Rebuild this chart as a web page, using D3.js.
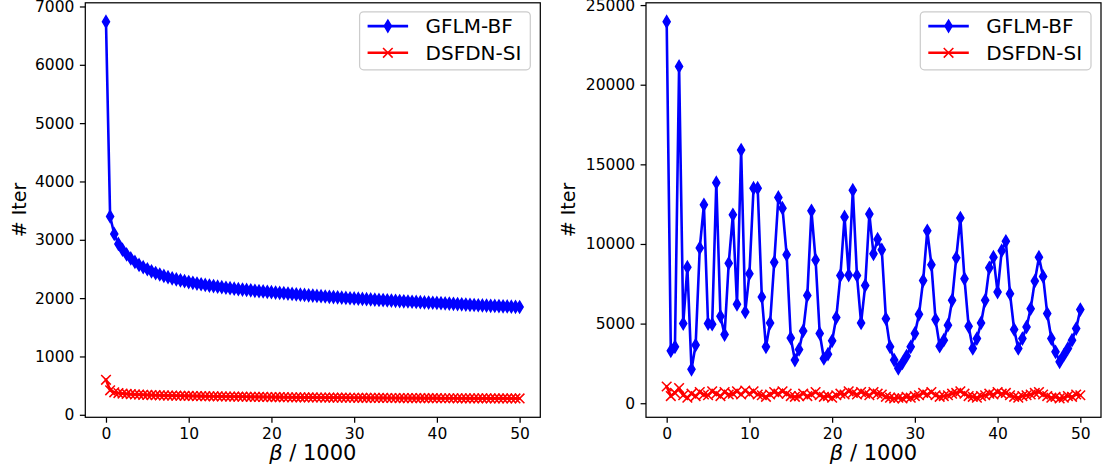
<!DOCTYPE html>
<html>
<head>
<meta charset="utf-8">
<script src="https://cdn.jsdelivr.net/npm/d3@7"></script>
<style>
html,body{margin:0;padding:0;background:#fff;}
svg{display:block;}
text{font-family:"DejaVu Sans",sans-serif;fill:#000;}
</style>
</head>
<body>
<svg id="chart" width="1104" height="472"></svg>
<script>
// ---------- data ----------
const beta = [
  0,0.5,1,1.5,2,2.5,3,3.5,4,4.5,
  5,5.5,6,6.5,7,7.5,8,8.5,9,9.5,
  10,10.5,11,11.5,12,12.5,13,13.5,14,14.5,
  15,15.5,16,16.5,17,17.5,18,18.5,19,19.5,
  20,20.5,21,21.5,22,22.5,23,23.5,24,24.5,
  25,25.5,26,26.5,27,27.5,28,28.5,29,29.5,
  30,30.5,31,31.5,32,32.5,33,33.5,34,34.5,
  35,35.5,36,36.5,37,37.5,38,38.5,39,39.5,
  40,40.5,41,41.5,42,42.5,43,43.5,44,44.5,
  45,45.5,46,46.5,47,47.5,48,48.5,49,49.5,
  50];

const leftGFLM = [
  6740,3400,3100,2930,2830,2750,2680,2620,2570,2530,
  2495,2460,2430,2405,2380,2360,2340,2322,2305,2290,
  2276,2263,2250,2238,2227,2216,2206,2196,2187,2178,
  2170,2162,2154,2147,2140,2133,2126,2120,2114,2108,
  2102,2096,2090,2084,2078,2072,2066,2060,2054,2048,
  2043,2038,2033,2028,2023,2018,2013,2008,2003,1998,
  1994,1990,1986,1982,1978,1974,1970,1966,1962,1958,
  1954,1950,1946,1942,1938,1934,1930,1927,1924,1921,
  1918,1914,1910,1906,1902,1898,1894,1890,1886,1882,
  1878,1875,1872,1869,1866,1863,1860,1857,1854,1851,
  1848];

const leftDSFDN = [
  600,420,385,372,364,358,353,349,346,343,
  340,338,336,334,332,330,329,327,326,325,
  324,322,321,320,319,318,317,316,315,314,
  313,312,311,310,309,308,307,306,306,305,
  304,303,303,302,301,300,300,299,298,298,
  297,296,296,295,295,294,294,293,293,292,
  292,291,291,290,290,290,289,289,288,288,
  288,287,287,287,286,286,286,285,285,285,
  285,284,284,284,284,283,283,283,283,282,
  282,282,282,281,281,281,281,280,280,280,
  280];

const rightGFLM = [
  23960,3290,3540,21150,5000,8540,2130,3650,9750,12460,
  5000,4960,13850,5460,4310,8790,11830,6210,15900,5730,
  8130,13500,13500,6670,3540,5040,8850,12920,12250,9330,
  4100,2710,3380,4540,6770,12080,9000,4380,2810,3080,
  3920,5380,8020,11700,8050,13380,8020,5040,7400,11880,
  9380,10300,9630,5310,3540,2710,2190,2540,2960,3540,
  4380,5580,7700,10830,8690,5250,3580,3960,4900,6460,
  9130,11630,7810,4830,3440,4060,5040,6460,8500,9170,
  6980,9580,10170,6880,4630,3440,4060,4790,5940,7670,
  9170,7960,5630,4060,3230,2600,3020,3440,3960,4690,
  5880];

const rightDSFDN = [
  1050,450,650,950,500,350,600,450,700,550,
  500,750,600,450,700,550,600,750,550,800,
  600,750,550,500,400,550,700,600,750,600,
  450,400,450,600,450,550,700,500,400,450,
  350,500,600,550,750,650,550,700,600,500,
  700,600,550,400,350,300,350,300,400,350,
  450,500,650,550,700,500,400,450,500,600,
  650,750,600,450,400,350,450,500,600,550,
  700,600,650,500,400,350,450,500,550,650,
  700,550,450,350,400,300,350,450,400,550,
  500];

const seriesNames = ["GFLM-BF", "DSFDN-SI"];
const xTicks = [0, 10, 20, 30, 40, 50];
const leftYTicks = [0, 1000, 2000, 3000, 4000, 5000, 6000, 7000];
const rightYTicks = [0, 5000, 10000, 15000, 20000, 25000];
const xLabelMath = "β";
const xLabelRest = " / 1000";
const yLabel = "# Iter";

// ---------- layout / style ----------
const PX = 1.55;                 // px per pt
const axTop = 2.8, axBottom = 417.3;
const colors = ["#0000ff", "#ff0000"];
const lw = 2.6, dH = 11.7, xS = 9.6, mew = 1.55;

const svg = d3.select("#chart");

function margins(arrs) {
  const lo = d3.min(arrs, a => d3.min(a)), hi = d3.max(arrs, a => d3.max(a));
  const pad = (hi - lo) * 0.05;
  return [lo - pad, hi + pad];
}

const panels = [
  {left: 85.3, right: 540.3, series: [leftGFLM, leftDSFDN], yTicks: leftYTicks, ylabX: 26},
  {left: 646, right: 1101, series: [rightGFLM, rightDSFDN], yTicks: rightYTicks, ylabX: 575}
];

function diamondPath(s) {
  const h = s / 2, w = s * 0.6 / 2;
  return `M0,${-h}L${w},0L0,${h}L${-w},0Z`;
}
function xPath(s) {
  const h = s / 2;
  return `M${-h},${-h}L${h},${h}M${-h},${h}L${h},${-h}`;
}

panels.forEach(p => {
  const xDom = [-2.5, 52.5];
  const x = d3.scaleLinear().domain(xDom).range([p.left, p.right]);
  const y = d3.scaleLinear().domain(margins(p.series)).range([axBottom, axTop]);
  const g = svg.append("g");

  const cid = "clip" + Math.round(p.left);
  svg.append("clipPath").attr("id", cid).append("rect")
    .attr("x", p.left).attr("y", axTop).attr("width", p.right - p.left).attr("height", axBottom - axTop);

  const plot = g.append("g").attr("clip-path", `url(#${cid})`);
  p.series.forEach((vals, si) => {
    const pts = beta.map((b, i) => [x(b), y(vals[i])]);
    plot.append("path")
      .attr("d", d3.line()(pts))
      .attr("fill", "none").attr("stroke", colors[si]).attr("stroke-width", lw)
      .attr("stroke-linejoin", "round").attr("stroke-linecap", "square");
    plot.append("g").selectAll("path").data(pts).join("path")
      .attr("transform", d => `translate(${d[0]},${d[1]})`)
      .attr("d", si === 0 ? diamondPath(dH) : xPath(xS))
      .attr("fill", si === 0 ? colors[si] : "none")
      .attr("stroke", colors[si]).attr("stroke-width", mew)
      .attr("stroke-linejoin", "miter");
  });

  const tl = 3.5 * PX, tp = 3.5 * PX;
  const xa = g.append("g").attr("transform", `translate(0,${axBottom})`)
    .call(d3.axisBottom(x).tickValues(xTicks).tickSize(tl).tickPadding(tp).tickFormat(d3.format("d")));
  const ya = g.append("g").attr("transform", `translate(${p.left},0)`)
    .call(d3.axisLeft(y).tickValues(p.yTicks).tickSize(tl).tickPadding(tp).tickFormat(d3.format("d")));
  [xa, ya].forEach(a => {
    a.select(".domain").remove();
    a.selectAll("line").attr("stroke", "#000").attr("stroke-width", 0.8 * PX);
    a.selectAll("text").attr("font-family", "DejaVu Sans").attr("font-size", "15.5px").attr("fill", "#000");
  });

  g.append("rect").attr("x", p.left).attr("y", axTop).attr("width", p.right - p.left).attr("height", axBottom - axTop)
    .attr("fill", "none").attr("stroke", "#000").attr("stroke-width", 0.8 * PX);

  const xl = g.append("text").attr("x", (p.left + p.right) / 2).attr("y", 460)
    .attr("text-anchor", "middle").attr("font-size", "21px");
  xl.append("tspan").attr("font-style", "italic").text(xLabelMath);
  xl.append("tspan").text(xLabelRest);

  g.append("text").attr("transform", `translate(${p.ylabX},${(axTop + axBottom) / 2}) rotate(-90)`)
    .attr("text-anchor", "middle").attr("font-size", "19px").text(yLabel);

  const fs = 20;
  const bw = 170.7, bh = 58;
  const bx = p.right - 10 - bw, by = axTop + 9;
  const lg = g.append("g");
  lg.append("rect").attr("x", bx).attr("y", by).attr("width", bw).attr("height", bh)
    .attr("rx", 4).attr("ry", 4)
    .attr("fill", "#fff").attr("fill-opacity", 0.8)
    .attr("stroke", "#cccccc").attr("stroke-width", 0.8 * PX);
  seriesNames.forEach((name, si) => {
    const cy = by + 14.3 + si * 26.7;
    const x0 = bx + 8, x1 = bx + 48.5, xm = (x0 + x1) / 2;
    lg.append("line").attr("x1", x0).attr("x2", x1).attr("y1", cy).attr("y2", cy)
      .attr("stroke", colors[si]).attr("stroke-width", lw);
    lg.append("path").attr("transform", `translate(${xm},${cy})`)
      .attr("d", si === 0 ? diamondPath(dH) : xPath(xS))
      .attr("fill", si === 0 ? colors[si] : "none")
      .attr("stroke", colors[si]).attr("stroke-width", mew);
    lg.append("text").attr("x", bx + 66).attr("y", cy + 0.36 * fs)
      .attr("font-size", fs + "px").text(name);
  });
});
</script>
</body>
</html>
